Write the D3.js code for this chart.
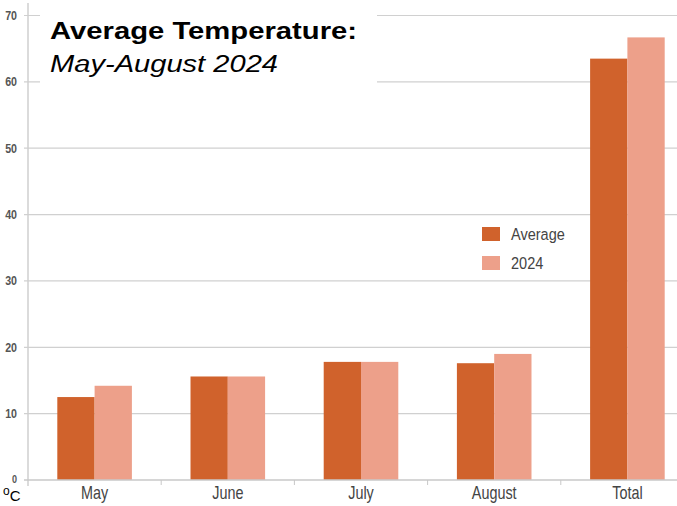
<!DOCTYPE html>
<html>
<head>
<meta charset="utf-8">
<script src="https://cdn.jsdelivr.net/npm/d3@7"></script>
<style>
  body { margin: 0; background: #fff; }
  svg { display: block; }
</style>
</head>
<body>
<div id="chart"></div>
<script>
// data
const months = ["May", "June", "July", "August", "Total"];
const seriesNames = ["Average", "2024"];
const averageVals = [12.5, 15.6, 17.8, 17.6, 63.5];
const vals2024 = [14.2, 15.6, 17.8, 19.0, 66.7];
const yTicks = [0, 10, 20, 30, 40, 50, 60, 70];

const width = 677, height = 506;
const colors = ["#d0622c", "#eda08a"];
const font = "'Liberation Sans', Arial, sans-serif";

const svg = d3.select("#chart").append("svg")
  .attr("width", width)
  .attr("height", height);

const x0 = d3.scaleBand()
  .domain(months)
  .range([28, 694])
  .paddingInner(0.44)
  .paddingOuter(0.22);

const x1 = d3.scaleBand()
  .domain(seriesNames)
  .range([0, x0.bandwidth()]);

const y = d3.scaleLinear()
  .domain([0, 70])
  .range([480, 15.5]);

const color = d3.scaleOrdinal().domain(seriesNames).range(colors);

// gridlines
svg.append("g")
  .selectAll("line")
  .data(yTicks.filter(d => d > 0))
  .join("line")
    .attr("x1", 24).attr("x2", width)
    .attr("y1", d => y(d)).attr("y2", d => y(d))
    .style("stroke", "#d0d0d0")
    .style("stroke-width", 1.2);

// y tick labels (narrow look)
svg.append("g")
  .selectAll("text")
  .data(yTicks)
  .join("text")
    .attr("transform", d => `translate(17,${y(d) + (d === 0 ? 2.5 : 4.5)}) scale(0.82,1)`)
    .attr("text-anchor", "end")
    .style("font-family", font)
    .style("font-size", d => d === 0 ? "11px" : "13px")
    .style("font-weight", "bold")
    .style("fill", "#555")
    .text(d => d);

// y axis line
svg.append("line")
  .attr("x1", 28).attr("x2", 28)
  .attr("y1", 3).attr("y2", 486)
  .style("stroke", "#cfcfcf")
  .style("stroke-width", 1.5);

// bars
const rows = months.map((m, i) => ({ month: m, values: [averageVals[i], vals2024[i]] }));

svg.append("g")
  .selectAll("g")
  .data(rows)
  .join("g")
    .attr("transform", d => `translate(${x0(d.month)},0)`)
  .selectAll("rect")
  .data(d => seriesNames.map((s, j) => ({ key: s, value: d.values[j] })))
  .join("rect")
    .attr("x", d => x1(d.key))
    .attr("width", x1.bandwidth())
    .attr("y", d => y(d.value))
    .attr("height", d => y(0) - y(d.value))
    .style("fill", d => color(d.key));

// x axis
const xAxis = svg.append("g");
xAxis.append("line")
  .attr("x1", 24).attr("x2", width)
  .attr("y1", y(0)).attr("y2", y(0))
  .style("stroke", "#c8c8c8")
  .style("stroke-width", 1.5);

const step = x0.step();
xAxis.selectAll(".tk")
  .data(months)
  .join("line")
    .attr("class", "tk")
    .attr("x1", d => x0(d) - step * 0.22 + step)
    .attr("x2", d => x0(d) - step * 0.22 + step)
    .attr("y1", y(0)).attr("y2", y(0) + 5)
    .style("stroke", "#c8c8c8");

xAxis.selectAll(".lbl")
  .data(months)
  .join("text")
    .attr("class", "lbl")
    .attr("transform", d => `translate(${x0(d) + x0.bandwidth() / 2},499) scale(0.8,1)`)
    .attr("text-anchor", "middle")
    .style("font-family", font)
    .style("font-size", "18px")
    .style("fill", "#444")
    .text(d => d);

// unit label
const unit = svg.append("text")
  .attr("x", 3)
  .attr("y", 501)
  .style("font-family", font)
  .style("font-size", "15px")
  .style("fill", "#000");
unit.append("tspan").attr("dy", -6).style("font-size", "12px").text("o");
unit.append("tspan").attr("dy", 6).text("C");

// title box
svg.append("rect")
  .attr("x", 40).attr("y", 8)
  .attr("width", 337).attr("height", 87)
  .style("fill", "#fff");

svg.append("text")
  .attr("x", 50).attr("y", 39)
  .attr("textLength", 307)
  .attr("lengthAdjust", "spacingAndGlyphs")
  .style("font-family", font)
  .style("font-size", "23px")
  .style("font-weight", "bold")
  .text("Average Temperature:");

svg.append("text")
  .attr("x", 50).attr("y", 72)
  .attr("textLength", 228)
  .attr("lengthAdjust", "spacingAndGlyphs")
  .style("font-family", font)
  .style("font-size", "23px")
  .style("font-style", "italic")
  .text("May-August 2024");

// legend
const legend = svg.append("g").attr("transform", "translate(482,227)");
legend.append("rect")
  .attr("x", -12).attr("y", -8)
  .attr("width", 118).attr("height", 58)
  .style("fill", "#fff");

const li = legend.selectAll("g.li")
  .data(seriesNames)
  .join("g")
    .attr("class", "li")
    .attr("transform", (d, i) => `translate(0,${i * 29})`);
li.append("rect")
  .attr("width", 18).attr("height", 14)
  .style("fill", d => color(d));
li.append("text")
  .attr("transform", "translate(29,12.5) scale(0.88,1)")
  .style("font-family", font)
  .style("font-size", "16.5px")
  .style("fill", "#444")
  .text(d => d);
</script>
</body>
</html>
